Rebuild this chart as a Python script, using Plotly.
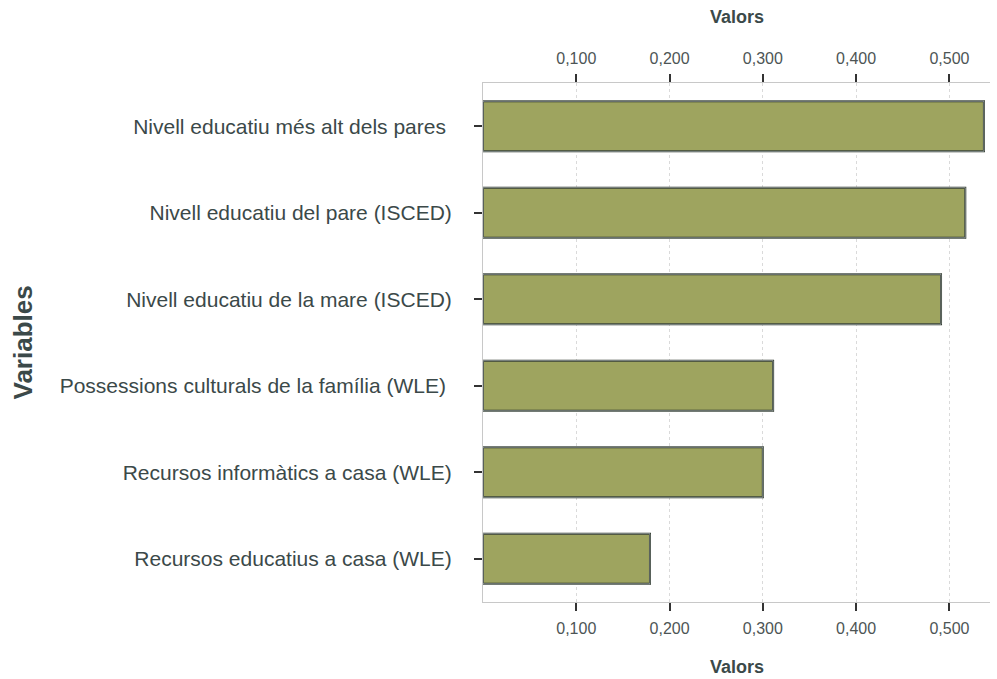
import plotly.graph_objects as go

categories = [
    "Nivell educatiu més alt dels pares ",
    "Nivell educatiu del pare (ISCED)",
    "Nivell educatiu de la mare (ISCED)",
    "Possessions culturals de la família (WLE) ",
    "Recursos informàtics a casa (WLE)",
    "Recursos educatius a casa (WLE)",
]
values = [0.537, 0.517, 0.491, 0.311, 0.300, 0.179]
tick_vals = [0.1, 0.2, 0.3, 0.4, 0.5]
tick_text = ["0,100", "0,200", "0,300", "0,400", "0,500"]
x_title = "Valors"
y_title = "Variables"

text_color = "#3b4949"
tick_color = "#4d5555"
font_family = "Liberation Sans, Arial, sans-serif"

fig = go.Figure()
fig.add_trace(go.Bar(
    x=values, y=categories, orientation="h",
    marker=dict(color="#9ea45f", line=dict(color="#2a3327", width=2)),
    width=0.58, xaxis="x", yaxis="y", showlegend=False, hoverinfo="x+y",
))
fig.add_trace(go.Bar(
    x=values, y=categories, orientation="h",
    marker=dict(color="rgba(0,0,0,0)"), width=0.58,
    xaxis="x2", yaxis="y", showlegend=False, hoverinfo="skip",
))

xrange = [0, 0.5435]
axis_common = dict(
    range=xrange, tickvals=tick_vals, ticktext=tick_text,
    ticks="outside", ticklen=8, tickwidth=2, tickcolor="#333333",
    tickfont=dict(size=16, color=tick_color, family=font_family),
    showline=True, linecolor="#c8c8c8", linewidth=1,
    zeroline=False, automargin=False,
)
fig.update_layout(
    width=997, height=679,
    margin=dict(l=483, r=7, t=83, b=77, autoexpand=False),
    paper_bgcolor="white", plot_bgcolor="white",
    font=dict(family=font_family, color=text_color),
    xaxis=dict(
        **axis_common, side="bottom", ticklabelstandoff=4,
        showgrid=True, gridcolor="#dadada", griddash="dot", gridwidth=1,
    ),
    xaxis2=dict(
        **axis_common, side="top", overlaying="x", showgrid=False,
        ticklabelstandoff=4,
    ),
    yaxis=dict(
        categoryorder="array", categoryarray=categories[::-1],
        range=[-0.5, 5.5],
        ticks="outside", ticklen=8, tickwidth=2, tickcolor="#333333",
        tickfont=dict(size=21, color=text_color, family=font_family),
        ticklabelstandoff=18,
        showline=True, linecolor="#c8c8c8", linewidth=1,
        showgrid=False, zeroline=False, automargin=False,
    ),
    bargap=0.42,
)
title_font = dict(color=text_color, family=font_family)
fig.add_annotation(
    text="<b>" + x_title + "</b>", x=0.5, xref="paper", y=0, yref="paper",
    yanchor="middle", yshift=-65, showarrow=False, font=dict(size=18, **title_font),
)
fig.add_annotation(
    text="<b>" + x_title + "</b>", x=0.5, xref="paper", y=1, yref="paper",
    yanchor="middle", yshift=66, showarrow=False, font=dict(size=18, **title_font),
)
fig.add_annotation(
    text="<b>" + y_title + "</b>", x=0, xref="paper", xanchor="center", xshift=-461,
    y=0.5, yref="paper", yanchor="middle", textangle=-90, showarrow=False,
    font=dict(size=26, **title_font),
)

fig.write_html(
    "out.html",
    config={"displayModeBar": False},
    post_script="document.body.style.margin='0';document.body.style.overflow='hidden';",
)
